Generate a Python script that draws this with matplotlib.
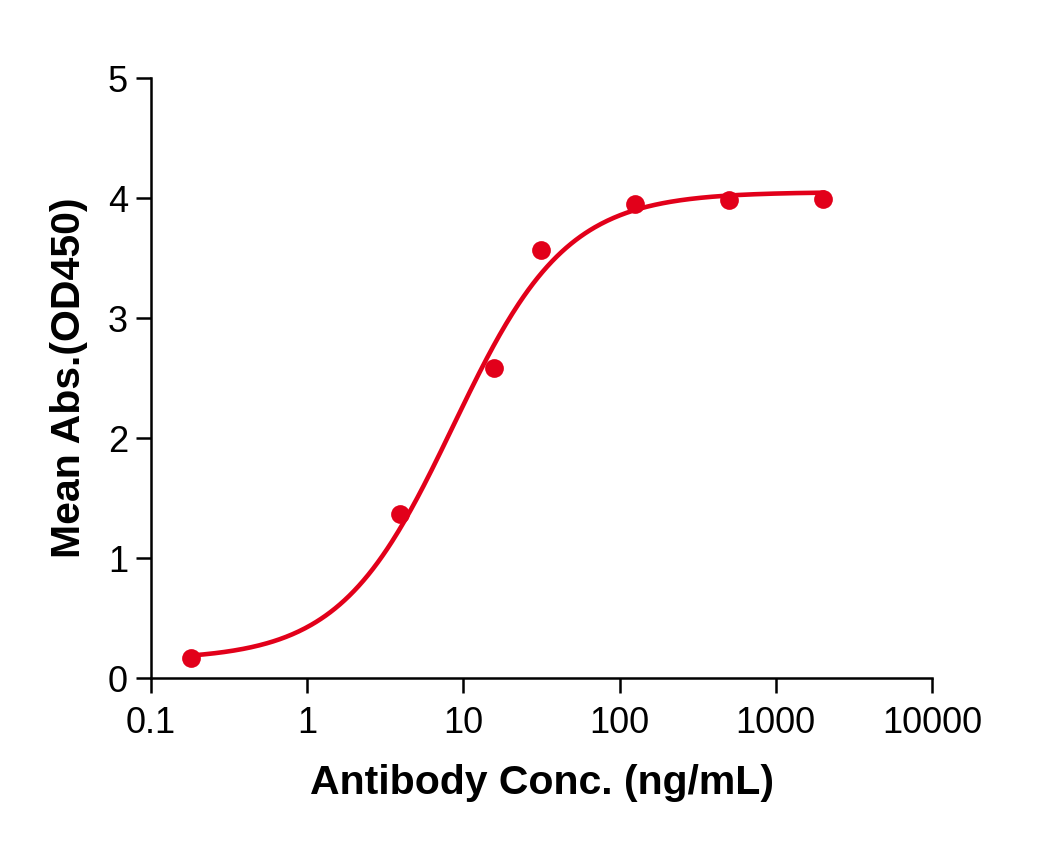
import numpy as np
import matplotlib
matplotlib.use("Agg")
import matplotlib.pyplot as plt

# Data
conc = [0.18, 3.9, 15.6, 31.2, 125, 500, 2000]
od450 = [0.17, 1.37, 2.58, 3.57, 3.95, 3.98, 3.99]

# 4PL fit parameters (estimated from drawn curve)
fit_bottom = 0.15
fit_top = 4.05
fit_ec50 = 8.6
fit_hill = 1.2

x_ticks = [0.1, 1, 10, 100, 1000, 10000]
x_tick_labels = ["0.1", "1", "10", "100", "1000", "10000"]
y_ticks = [0, 1, 2, 3, 4, 5]

red = "#E2001A"

plt.rcParams['font.family'] = ['Liberation Sans', 'DejaVu Sans']

fig = plt.figure(figsize=(10.57, 8.49), dpi=100)
ax = fig.add_axes([151/1057, 1 - 678/849, (932-151)/1057, (678-78)/849])

xf = np.logspace(np.log10(min(conc)), np.log10(max(conc)), 400)
yf = fit_bottom + (fit_top - fit_bottom) / (1 + (fit_ec50 / xf) ** fit_hill)
ax.plot(xf, yf, color=red, lw=3.3, zorder=2)
ax.plot(conc, od450, 'o', color=red, ms=13.5, mec='none', zorder=3)

ax.set_xscale('log')
ax.set_xlim(0.1, 10000)
ax.set_ylim(0, 5)
ax.set_xticks(x_ticks)
ax.set_xticklabels(x_tick_labels)
ax.xaxis.set_minor_locator(matplotlib.ticker.NullLocator())
ax.set_yticks(y_ticks)

for s in ['top', 'right']:
    ax.spines[s].set_visible(False)
for s in ['left', 'bottom']:
    ax.spines[s].set_linewidth(1.8)
ax.tick_params(axis='both', which='major', length=10.5, width=1.8, labelsize=26, direction='out')
ax.tick_params(axis='y', pad=6)
ax.tick_params(axis='x', pad=10)

ax.set_xlabel("Antibody Conc. (ng/mL)", fontsize=29.5, fontweight='bold', labelpad=16)
ax.set_ylabel("Mean Abs.(OD450)", fontsize=29.5, fontweight='bold', labelpad=14)

fig.savefig("out.png", dpi=100)
